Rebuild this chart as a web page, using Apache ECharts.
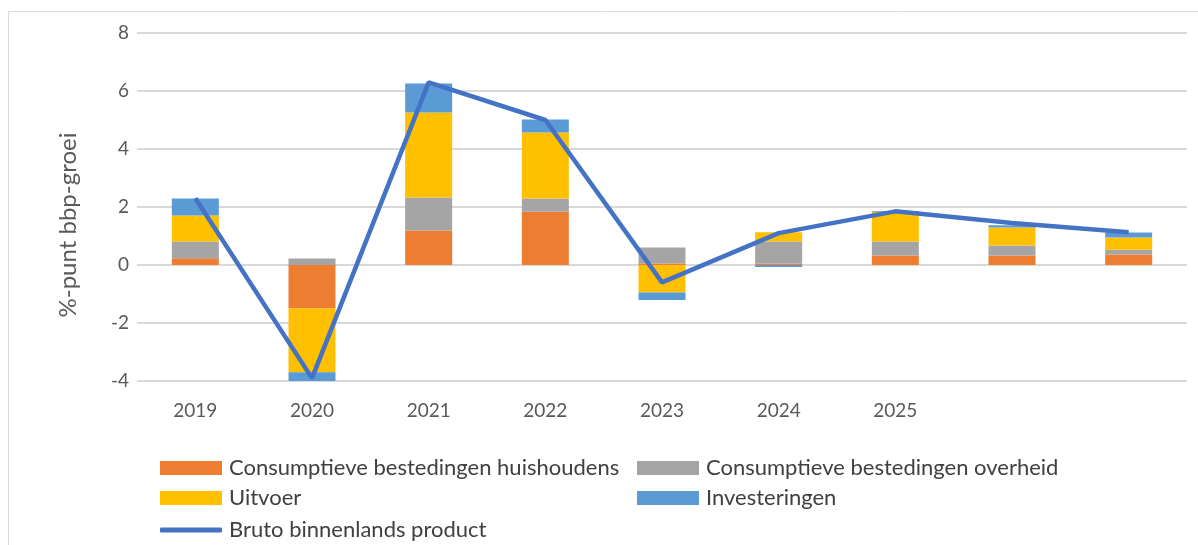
<!DOCTYPE html>
<html>
<head>
<meta charset="utf-8">
<script src="https://cdn.jsdelivr.net/npm/echarts@6/dist/echarts.min.js"></script>
<style>
  html, body { margin: 0; padding: 0; background: #fff; }
  #chart { width: 1198px; height: 545px; }
</style>
</head>
<body>
<div id="chart"></div>
<script>
// jaren (laatste twee zonder label)
var jaren = ['2019', '2020', '2021', '2022', '2023', '2024', '2025', '', ' '];

// bijdragen aan bbp-groei, %-punt
var huishoudens = [0.23, -1.5, 1.19, 1.84, 0.05, 0.05, 0.33, 0.33, 0.36];
var overheid = [0.58, 0.22, 1.14, 0.45, 0.55, 0.76, 0.48, 0.34, 0.17];
var uitvoer = [0.9, -2.2, 2.93, 2.28, -0.95, 0.32, 1.03, 0.62, 0.42];
var investeringen = [0.58, -0.3, 1.0, 0.45, -0.26, -0.07, 0.02, 0.08, 0.17];
var bbp = [2.3, -3.9, 6.3, 5.0, -0.6, 1.1, 1.85, 1.45, 1.13];

var yTicks = { min: -4, max: 8, interval: 2 };

var font = 'Lato, Carlito, sans-serif';
var chart = echarts.init(document.getElementById('chart'));

function barSerie(naam, data, kleur) {
  return {
    name: naam,
    type: 'bar',
    stack: 'bijdrage',
    data: data,
    barWidth: 47,
    itemStyle: { color: kleur },
    emphasis: { disabled: true }
  };
}

// één legenda per item, zodat de plek vastligt
function legendItem(naam, icon, left, top, hoogte) {
  return {
    left: left,
    top: top,
    itemWidth: 62,
    itemHeight: hoogte || 14,
    itemGap: 0,
    textStyle: { color: '#404040', fontSize: 22, fontFamily: font, padding: [0, 0, 0, 2] },
    data: [{ name: naam, icon: icon }]
  };
}

var option = {
  animation: false,
  textStyle: { fontFamily: font },
  graphic: [{
    type: 'rect',
    shape: { x: 8.5, y: 11.5, width: 1200, height: 540 },
    style: { fill: 'none', stroke: '#D9D9D9', lineWidth: 1 },
    silent: true
  }],
  grid: { left: 137, right: 11, top: 33, height: 348 },
  xAxis: {
    type: 'category',
    data: jaren,
    axisLine: { show: false },
    axisTick: { show: false },
    axisLabel: { color: '#595959', fontSize: 19, fontFamily: font, margin: 20 }
  },
  yAxis: {
    type: 'value',
    min: yTicks.min,
    max: yTicks.max,
    interval: yTicks.interval,
    name: '%-punt bbp-groei',
    nameLocation: 'middle',
    nameGap: 57,
    nameTextStyle: { color: '#595959', fontSize: 24, fontFamily: font, padding: [0, 36, 0, 0] },
    axisLine: { show: false },
    axisTick: { show: false },
    axisLabel: { color: '#595959', fontSize: 19, fontFamily: font, margin: 8 },
    splitLine: { lineStyle: { color: '#D9D9D9', width: 2 } }
  },
  legend: [
    legendItem('Consumptieve bestedingen huishoudens', 'rect', 155, 452),
    legendItem('Consumptieve bestedingen overheid', 'rect', 632, 452),
    legendItem('Uitvoer', 'rect', 155, 482),
    legendItem('Investeringen', 'rect', 632, 482),
    legendItem('Bruto binnenlands product', 'roundRect', 155, 514, 5)
  ],
  series: [
    barSerie('Consumptieve bestedingen huishoudens', huishoudens, '#ED7D31'),
    barSerie('Consumptieve bestedingen overheid', overheid, '#A5A5A5'),
    barSerie('Uitvoer', uitvoer, '#FFC000'),
    barSerie('Investeringen', investeringen, '#5B9BD5'),
    {
      name: 'Bruto binnenlands product',
      type: 'line',
      data: bbp,
      symbol: 'none',
      lineStyle: { color: '#4472C4', width: 4.5 },
      itemStyle: { color: '#4472C4' },
      z: 5
    }
  ]
};

chart.setOption(option);
</script>
</body>
</html>
